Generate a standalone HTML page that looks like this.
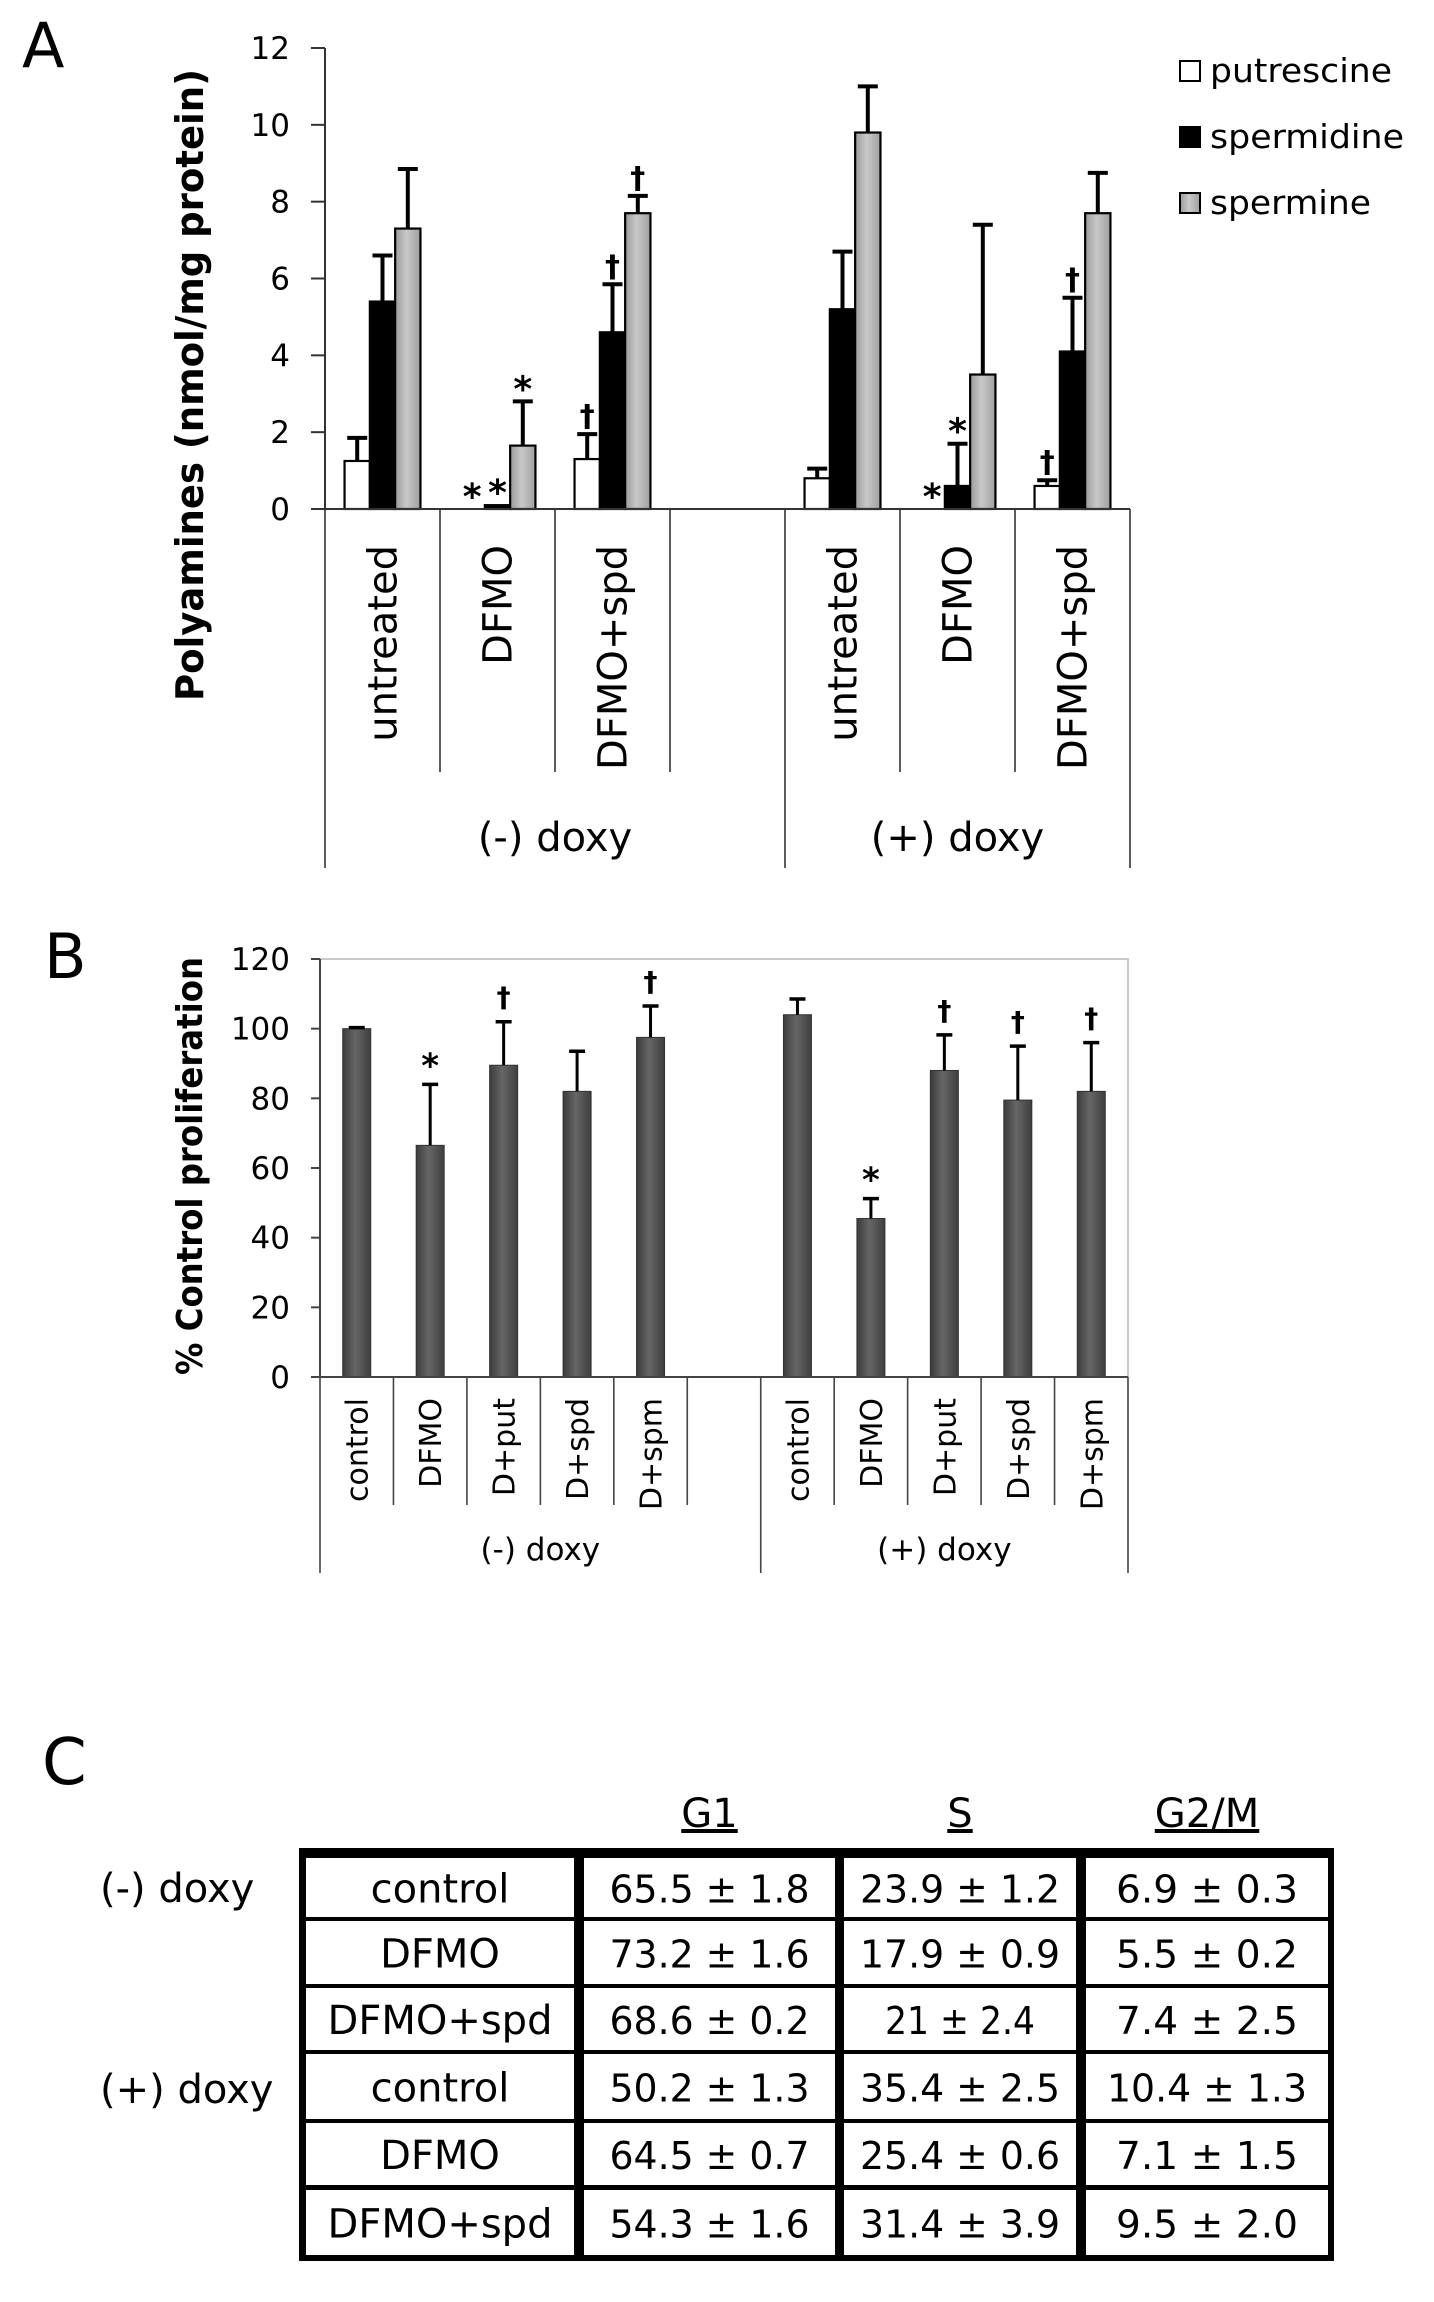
<!DOCTYPE html>
<html><head><meta charset="utf-8"><title>Polyamines figure</title>
<style>
html,body{margin:0;padding:0;background:#fff;}
svg{display:block;}
text{font-family:"DejaVu Sans","Liberation Sans",sans-serif;fill:#000;}
</style></head>
<body>
<svg id="fig" width="1434" height="2302" viewBox="0 0 1434 2302" xmlns="http://www.w3.org/2000/svg">
<defs>
<linearGradient id="gSpm" x1="0" x2="1" y1="0" y2="0">
<stop offset="0" stop-color="#9a9a9a"/><stop offset="0.45" stop-color="#c8c8c8"/><stop offset="1" stop-color="#a0a0a0"/>
</linearGradient>
<linearGradient id="gB" x1="0" x2="1" y1="0" y2="0">
<stop offset="0" stop-color="#3c3c3c"/><stop offset="0.45" stop-color="#666"/><stop offset="1" stop-color="#3e3e3e"/>
</linearGradient>
</defs>
<text x="22" y="67" font-size="62" font-family="Liberation Sans, sans-serif">A</text>
<text x="44" y="978" font-size="62" font-family="Liberation Sans, sans-serif">B</text>
<text x="42" y="1784" font-size="64" font-family="Liberation Sans, sans-serif">C</text>
<g id="chartA"></g>
<g id="chartB"></g>
<g id="tableC"></g>
</svg>
<script>
// ---------- Panel A data ----------
const aCategories = ["untreated","DFMO","DFMO+spd","","untreated","DFMO","DFMO+spd"];
const aGroups = ["(-) doxy","(+) doxy"];
const aSlots = [0,1,2,4,5,6];
const aPut = [1.25,0,1.3,0.8,0,0.6];
const aPutErr = [1.85,0,1.95,1.05,0,0.75];
const aSpd = [5.4,0.1,4.6,5.2,0.6,4.1];
const aSpdErr = [6.6,0.1,5.85,6.7,1.7,5.5];
const aSpm = [7.3,1.65,7.7,9.8,3.5,7.7];
const aSpmErr = [8.85,2.8,8.15,11.0,7.4,8.75];
const aPutMark = ["","*","†","","*","†"];
const aSpdMark = ["","*","†","","*","†"];
const aSpmMark = ["","*","†","","",""];
const aTicks = [0,2,4,6,8,10,12];
const aLegend = ["putrescine","spermidine","spermine"];

// ---------- Panel B data ----------
const bCategories = ["control","DFMO","D+put","D+spd","D+spm","","control","DFMO","D+put","D+spd","D+spm"];
const bGroups = ["(-) doxy","(+) doxy"];
const bSlots = [0,1,2,3,4,6,7,8,9,10];
const bValues = [100,66.5,89.5,82,97.5,104,45.5,88,79.5,82];
const bErr = [100.3,84,102,93.5,106.5,108.5,51.2,98.2,95,96];
const bMarks = ["","*","†","","†","","*","†","†","†"];
const bTicks = [0,20,40,60,80,100,120];

// ---------- Panel C data ----------
const cHeaders = ["G1","S","G2/M"];
const cRowLabels = ["control","DFMO","DFMO+spd","control","DFMO","DFMO+spd"];
const cG1 = ["65.5 ± 1.8","73.2 ± 1.6","68.6 ± 0.2","50.2 ± 1.3","64.5 ± 0.7","54.3 ± 1.6"];
const cS = ["23.9 ± 1.2","17.9 ± 0.9","21 ± 2.4","35.4 ± 2.5","25.4 ± 0.6","31.4 ± 3.9"];
const cG2M = ["6.9 ± 0.3","5.5 ± 0.2","7.4 ± 2.5","10.4 ± 1.3","7.1 ± 1.5","9.5 ± 2.0"];
const cGroups = ["(-) doxy","(+) doxy"];

const NS = "http://www.w3.org/2000/svg";
function mk(parent, tag, attrs, txt){
  const e = document.createElementNS(NS, tag);
  for (const k in attrs) e.setAttribute(k, attrs[k]);
  if (txt !== undefined) e.textContent = txt;
  parent.appendChild(e);
  return e;
}

// ================= Chart A =================
(function(){
  const g = document.getElementById('chartA');
  const x0 = 325, x1 = 1130, y0 = 509, yTop = 48, vmax = 12;
  const nSlots = aCategories.length;
  const cw = (x1 - x0) / nSlots;
  const yS = v => y0 - (v / vmax) * (y0 - yTop);
  const slotX = i => x0 + i * cw;
  const bw = 25.3, off = (cw - 3*bw)/2;

  let e = mk(g,'line',{x1:x0,y1:yTop,x2:x0,y2:y0,stroke:'#333','stroke-width':2});
   
  aTicks.forEach(t=>{
    const l = mk(g,'line',{x1:x0-14,y1:yS(t),x2:x0,y2:yS(t),stroke:'#333','stroke-width':2});
     
    const tx = mk(g,'text',{x:290,y:yS(t)+11,'font-size':31,'text-anchor':'end'},String(t));
     
  });
  const yt = mk(g,'text',{x:0,y:0,'font-size':38,'font-weight':'bold','text-anchor':'middle',textLength:632,lengthAdjust:'spacingAndGlyphs',transform:'translate(203,385) rotate(-90)'},'Polyamines (nmol/mg protein)');
   

  for (let i=0;i<=nSlots;i++){
    const outer = (i===0 || i===4 || i===nSlots);
    const l = mk(g,'line',{x1:slotX(i),y1:y0,x2:slotX(i),y2:outer?868:772,stroke:'#333','stroke-width':1.6});
     
  }
  aCategories.forEach((c,i)=>{
    if(!c) return;
    const cx = slotX(i)+cw/2+14;
    const t = mk(g,'text',{x:0,y:0,'font-size':40,'text-anchor':'end',transform:`translate(${cx},545) rotate(-90)`},c);
     
  });
  const gx = [ (slotX(0)+slotX(4))/2, (slotX(4)+slotX(7))/2 ];
  aGroups.forEach((gr,i)=>{
    const t = mk(g,'text',{x:gx[i],y:851,'font-size':40,'text-anchor':'middle'},gr);
     
  });

  const series = [
    {vals:aPut, err:aPutErr, marks:aPutMark, fill:'#fff', name:'putrescine'},
    {vals:aSpd, err:aSpdErr, marks:aSpdMark, fill:'#000', name:'spermidine'},
    {vals:aSpm, err:aSpmErr, marks:aSpmMark, fill:'url(#gSpm)', name:'spermine'}
  ];
  series.forEach((s,si)=>{
    s.vals.forEach((v,k)=>{
      const bx = slotX(aSlots[k]) + off + si*bw;
      const cx = bx + bw/2;
      if (v > 0){
        const r = mk(g,'rect',{x:bx,y:yS(v),width:bw,height:y0-yS(v),fill:s.fill,stroke:'#000','stroke-width':2.2});
         
      }
      const et = s.err[k];
      let capY = yS(Math.max(v,0));
      if (et > v){
        capY = yS(et);
        const l = mk(g,'line',{x1:cx,y1:yS(v),x2:cx,y2:capY,stroke:'#000','stroke-width':4});
         
        const c = mk(g,'line',{x1:cx-10,y1:capY,x2:cx+10,y2:capY,stroke:'#000','stroke-width':4});
         
      }
      const m = s.marks[k];
      if (m){
        const my = capY - 20;
        const t = mk(g,'text',{x:cx,y:my+(m==='*'?20:12),'font-size':m==='*'?36:30,'font-weight':'bold','text-anchor':'middle'},m);
         
      }
    });
  });
  e = mk(g,'line',{x1:x0-14,y1:y0,x2:x1,y2:y0,stroke:'#333','stroke-width':2});
   

  const fills = ['#fff','#000','url(#gSpm)'];
  const ly = [71,137,203];
  const lens = [182,194,161];
  aLegend.forEach((n,i)=>{
    const r = mk(g,'rect',{x:1180,y:ly[i]-10,width:20,height:20,fill:fills[i],stroke:'#000','stroke-width':2});
     
    const t = mk(g,'text',{x:1210,y:ly[i]+11,'font-size':33,textLength:lens[i],lengthAdjust:'spacingAndGlyphs'},n);
     
  });
})();

// ================= Chart B =================
(function(){
  const g = document.getElementById('chartB');
  const x0 = 320, x1 = 1128, y0 = 1377, yTop = 959, vmax = 120;
  const nSlots = bCategories.length;
  const cw = (x1-x0)/nSlots;
  const yS = v => y0 - (v/vmax)*(y0-yTop);
  const slotX = i => x0 + i*cw;
  const bw = 28;

  let e = mk(g,'polyline',{points:`${x0},${yTop} ${x1},${yTop} ${x1},${y0}`,fill:'none',stroke:'#c8c8c8','stroke-width':2});
   
  e = mk(g,'line',{x1:x0,y1:yTop,x2:x0,y2:y0,stroke:'#444','stroke-width':2});
   
  bTicks.forEach(t=>{
    const l = mk(g,'line',{x1:x0-9,y1:yS(t),x2:x0,y2:yS(t),stroke:'#444','stroke-width':2});
     
    const tx = mk(g,'text',{x:290,y:yS(t)+11,'font-size':31,'text-anchor':'end'},String(t));
     
  });
  const yt = mk(g,'text',{x:0,y:0,'font-size':36,'font-weight':'bold','text-anchor':'middle',textLength:418,lengthAdjust:'spacingAndGlyphs',transform:'translate(202,1166) rotate(-90)'},'% Control proliferation');
   

  for (let i=0;i<=nSlots;i++){
    const outer = (i===0 || i===6 || i===nSlots);
    const l = mk(g,'line',{x1:slotX(i),y1:y0,x2:slotX(i),y2:outer?1573:1505,stroke:'#444','stroke-width':1.6});
     
  }
  bCategories.forEach((c,i)=>{
    if(!c) return;
    const cx = slotX(i)+cw/2+11;
    const t = mk(g,'text',{x:0,y:0,'font-size':30,'text-anchor':'end',transform:`translate(${cx},1398) rotate(-90)`},c);
     
  });
  const gx = [(slotX(0)+slotX(6))/2,(slotX(6)+slotX(11))/2];
  bGroups.forEach((gr,i)=>{
    const t = mk(g,'text',{x:gx[i],y:1560,'font-size':31,'text-anchor':'middle'},gr);
     
  });

  bValues.forEach((v,k)=>{
    const cx = slotX(bSlots[k]) + cw/2;
    const r = mk(g,'rect',{x:cx-bw/2,y:yS(v),width:bw,height:y0-yS(v),fill:'url(#gB)',stroke:'#333','stroke-width':1});
     
    const et = bErr[k];
    const capY = yS(et);
    const l = mk(g,'line',{x1:cx,y1:yS(v),x2:cx,y2:capY,stroke:'#000','stroke-width':3});
     
    const c = mk(g,'line',{x1:cx-8,y1:capY,x2:cx+8,y2:capY,stroke:'#000','stroke-width':3.5});
     
    const m = bMarks[k];
    if (m){
      const my = capY - 27;
      const t = mk(g,'text',{x:cx,y:my+(m==='*'?20:12),'font-size':m==='*'?34:28,'font-weight':'bold','text-anchor':'middle'},m);
       
    }
  });
  e = mk(g,'line',{x1:x0-9,y1:y0,x2:x1,y2:y0,stroke:'#444','stroke-width':2});
   
})();

// ================= Table C =================
(function(){
  const g = document.getElementById('tableC');
  let e = mk(g,'rect',{x:299,y:1848,width:1035,height:413,fill:'#000'});
   
  const colX = [[306,574],[584,835],[844,1076],[1086,1328]];
  const rowY = [[1858,1917],[1921,1984],[1988,2050],[2054,2119],[2123,2185],[2190,2255]];
  const cols = [cRowLabels,cG1,cS,cG2M];
  rowY.forEach((ry,r)=>{
    colX.forEach((cx,c)=>{
      const rc = mk(g,'rect',{x:cx[0],y:ry[0],width:cx[1]-cx[0],height:ry[1]-ry[0],fill:'#fff'});
       
      const t = mk(g,'text',{x:(cx[0]+cx[1])/2,y:(ry[0]+ry[1])/2+15,'font-size':c===0?40:38,'text-anchor':'middle'},cols[c][r]);
      if (c>0){ t.setAttribute('textLength', cols[c][r].length>9?200:(cols[c][r].length>8?182:150)); t.setAttribute('lengthAdjust','spacingAndGlyphs'); }
       
    });
  });
  cHeaders.forEach((h,i)=>{
    const cx = (colX[i+1][0]+colX[i+1][1])/2;
    const t = mk(g,'text',{x:cx,y:1827,'font-size':40,'text-anchor':'middle','text-decoration':'underline'},h);
     
  });
  const gy = [1902,2103];
  cGroups.forEach((gr,i)=>{
    const t = mk(g,'text',{x:100,y:gy[i],'font-size':40},gr);
     
  });
})();
</script>
</body></html>
